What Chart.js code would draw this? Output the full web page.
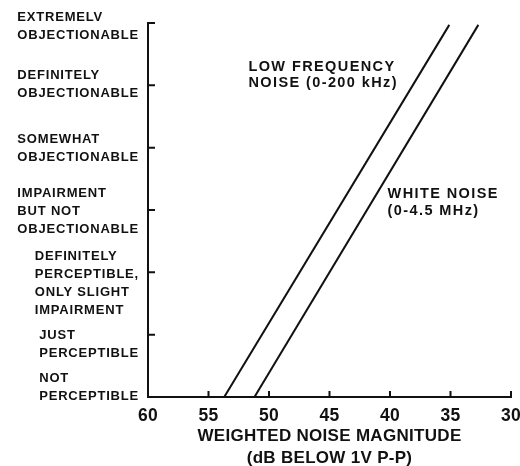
<!DOCTYPE html>
<html>
<head>
<meta charset="utf-8">
<title>Weighted noise magnitude vs impairment</title>
<script src="https://cdn.jsdelivr.net/npm/chart.js@4/dist/chart.umd.min.js"></script>
<style>
    html, body { margin: 0; padding: 0; background: #fff; }
    #wrap { width: 520px; height: 466px; }
</style>
</head>
<body>
<div id="wrap"><canvas id="noiseChart" width="520" height="466"></canvas></div>
<script>
// Impairment grades, from the bottom of the scale (0) to the top (6)
const gradeLabels = [
    ['NOT', 'PERCEPTIBLE'],
    ['JUST', 'PERCEPTIBLE'],
    ['DEFINITELY', 'PERCEPTIBLE,', 'ONLY SLIGHT', 'IMPAIRMENT'],
    ['IMPAIRMENT', 'BUT NOT', 'OBJECTIONABLE'],
    ['SOMEWHAT', 'OBJECTIONABLE'],
    ['DEFINITELY', 'OBJECTIONABLE'],
    ['EXTREMELV', 'OBJECTIONABLE']
];
const dbTicks = [60, 55, 50, 45, 40, 35, 30];

// Noise level (dB below 1V p-p) against grade, one straight line per noise type
const lowFreqDb = [53.7, 35.1];
const lowFreqGrade = [0, 5.97];
const whiteDb = [51.2, 32.7];
const whiteGrade = [0, 5.97];

const INK = '#111';
const FONT = "'Liberation Sans', Arial, sans-serif";

const toPoints = (xs, ys) => xs.map((x, i) => ({ x, y: ys[i] }));

// small tick marks pointing into the plot area
const innerTicks = {
    id: 'innerTicks',
    afterDraw(chart, args, opts) {
        const { ctx, chartArea, scales: { x, y } } = chart;
        ctx.save();
        ctx.strokeStyle = INK;
        ctx.lineWidth = 2;
        ctx.beginPath();
        x.ticks.forEach(t => {
            const px = x.getPixelForValue(t.value);
            ctx.moveTo(px, chartArea.bottom);
            ctx.lineTo(px, chartArea.bottom - opts.length);
        });
        y.ticks.forEach(t => {
            const py = y.getPixelForValue(t.value);
            ctx.moveTo(chartArea.left, py);
            ctx.lineTo(chartArea.left + opts.length + 1, py);
        });
        ctx.stroke();
        ctx.restore();
    }
};

// grade names: each block left aligned, widest line ending near the axis
const gradeText = {
    id: 'gradeText',
    afterDraw(chart, args, opts) {
        const { ctx, scales: { y } } = chart;
        ctx.save();
        ctx.fillStyle = INK;
        ctx.font = `bold ${opts.size}px ${FONT}`;
        ctx.letterSpacing = opts.spacing + 'px';
        ctx.textAlign = 'left';
        ctx.textBaseline = 'alphabetic';
        y.ticks.forEach((t, i) => {
            const lines = gradeLabels[t.value];
            if (!lines) return;
            const w = Math.max(...lines.map(l => ctx.measureText(l).width));
            const left = opts.right - w;
            const mid = y.getPixelForValue(t.value) + (opts.shift[i] || 0);
            const first = mid - (lines.length - 1) / 2 * opts.lineHeight + opts.size * 0.36;
            lines.forEach((l, k) => ctx.fillText(l, left, first + k * opts.lineHeight));
        });
        ctx.restore();
    }
};

// names written beside each line
const seriesNotes = {
    id: 'seriesNotes',
    afterDraw(chart, args, opts) {
        const { ctx, scales: { x, y } } = chart;
        ctx.save();
        ctx.fillStyle = INK;
        ctx.font = `bold ${opts.size}px ${FONT}`;
        ctx.letterSpacing = opts.spacing + 'px';
        ctx.textAlign = 'left';
        opts.items.forEach(n => {
            const px = x.getPixelForValue(n.x);
            const py = y.getPixelForValue(n.y);
            n.lines.forEach((l, k) => ctx.fillText(l, px, py + k * opts.lineHeight));
        });
        ctx.restore();
    }
};

// slight tracking on the axis text
const tracking = {
    id: 'tracking',
    beforeDraw(chart, args, opts) {
        chart.ctx.letterSpacing = opts.spacing + 'px';
    }
};

new Chart(document.getElementById('noiseChart'), {
    type: 'scatter',
    data: {
        datasets: [
            {
                label: 'LOW FREQUENCY NOISE (0-200 kHz)',
                data: toPoints(lowFreqDb, lowFreqGrade),
                showLine: true,
                borderColor: INK,
                borderWidth: 2,
                pointRadius: 0
            },
            {
                label: 'WHITE NOISE (0-4.5 MHz)',
                data: toPoints(whiteDb, whiteGrade),
                showLine: true,
                borderColor: INK,
                borderWidth: 2,
                pointRadius: 0
            }
        ]
    },
    options: {
        responsive: false,
        animation: false,
        layout: { padding: { left: 148, top: 23, right: 9, bottom: 0 } },
        scales: {
            x: {
                type: 'linear',
                reverse: true,
                min: 30,
                max: 60,
                afterBuildTicks: s => { s.ticks = dbTicks.map(v => ({ value: v })); },
                afterFit: s => {
                    s.height = 69;
                    s.paddingLeft = 0;
                    s.paddingRight = 0;
                },
                grid: { display: false },
                border: { display: true, color: INK, width: 2 },
                ticks: {
                    color: INK,
                    padding: 1,
                    maxRotation: 0,
                    font: { family: FONT, size: 17.5, weight: 'bold' }
                },
                title: {
                    display: true,
                    text: ['WEIGHTED NOISE MAGNITUDE', '(dB BELOW 1V P-P)'],
                    color: INK,
                    padding: { top: 0, bottom: -3 },
                    font: { family: FONT, size: 17, weight: 'bold', lineHeight: 1.3 }
                }
            },
            y: {
                type: 'linear',
                min: 0,
                max: 6,
                afterBuildTicks: s => { s.ticks = gradeLabels.map((_, i) => ({ value: i })); },
                afterFit: s => { s.width = 0; },
                grid: { display: false },
                border: { display: true, color: INK, width: 2 },
                ticks: { display: false }
            }
        },
        plugins: {
            legend: { display: false },
            tooltip: { enabled: false },
            tracking: { spacing: 0.3 },
            innerTicks: { length: 6 },
            gradeText: {
                size: 13,
                spacing: 0.8,
                lineHeight: 18,
                right: 139,
                shift: [-11, 9, 10, 0, 0, -2, 2]
            },
            seriesNotes: {
                size: 14.5,
                spacing: 1.4,
                lineHeight: 16.5,
                items: [
                    { lines: ['LOW FREQUENCY', 'NOISE (0-200 kHz)'], x: 51.7, y: 5.23 },
                    { lines: ['WHITE NOISE', '(0-4.5 MHz)'], x: 40.2, y: 3.19 }
                ]
            }
        }
    },
    plugins: [tracking, innerTicks, gradeText, seriesNotes]
});
</script>
</body>
</html>
